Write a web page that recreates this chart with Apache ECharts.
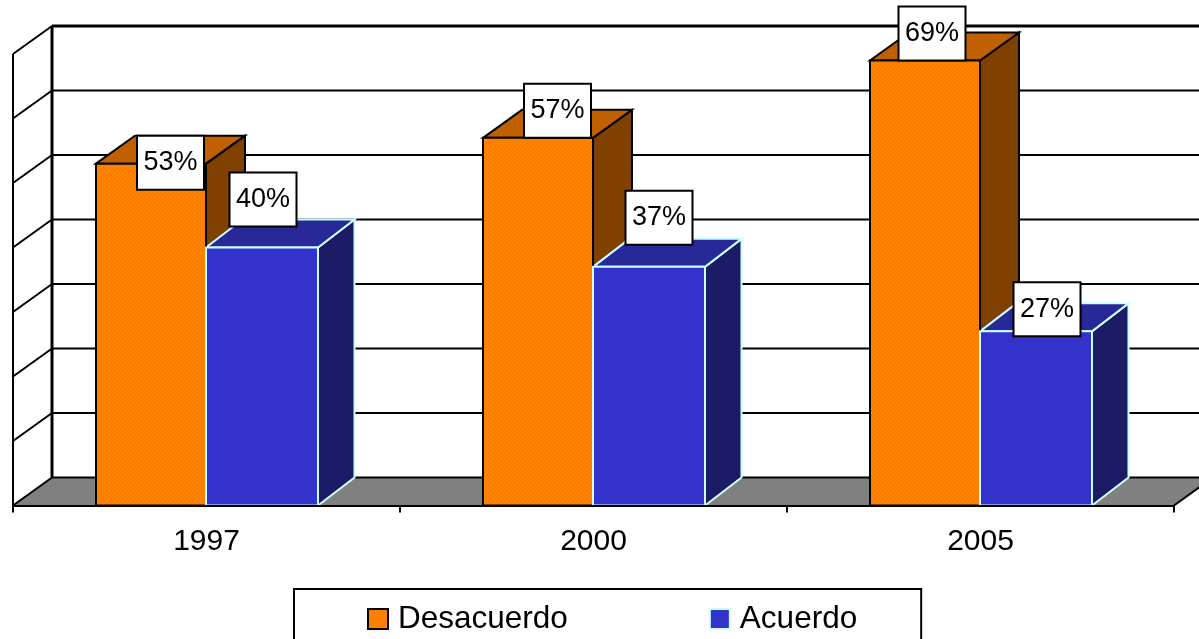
<!DOCTYPE html>
<html><head><meta charset="utf-8">
<style>html,body{margin:0;padding:0;background:#fff;overflow:hidden}#c{width:1199px;height:639px}</style>
<script src="https://cdn.jsdelivr.net/npm/echarts@6/dist/echarts.min.js"></script>
</head><body><div id="c"></div>
<script>
const years = ['1997', '2000', '2005'];
const desacuerdo = [53, 57, 69];
const acuerdo = [40, 37, 27];
const valueTicks = [0, 10, 20, 30, 40, 50, 60, 70];

// manual nudges of the value boxes (px, from the centre of the bar's front top edge)
const desacuerdoBoxNudge = [[19.5, -1], [19.5, -27], [7, -27]];
const acuerdoBoxNudge = [[1, -48], [10, -49], [11, -22]];

const DX = 39, DY = 28;
const FONT = '"Liberation Sans", Arial, sans-serif';

const chart = echarts.init(document.getElementById('c'), null, {renderer: 'canvas'});

function ditherPattern(a, b) {
  const cv = document.createElement('canvas');
  cv.width = cv.height = 4;
  const g = cv.getContext('2d');
  g.fillStyle = a; g.fillRect(0, 0, 4, 4);
  g.fillStyle = b; g.fillRect(0, 0, 2, 2); g.fillRect(2, 2, 2, 2);
  return {image: cv, repeat: 'repeat'};
}

function poly(points, fill, stroke, lw, z2) {
  return {type: 'polygon', shape: {points}, z2,
    style: {fill, stroke, lineWidth: lw, lineJoin: 'miter'}};
}
function line(x1, y1, x2, y2, w, z2) {
  return {type: 'line', shape: {x1, y1, x2, y2}, z2, style: {stroke: '#000', lineWidth: w}};
}

function renderWall(params, api) {
  const v = api.value(0);
  const rect = params.coordSys;
  const x0 = rect.x, x1 = rect.x + rect.width + DX;
  const y = api.coord([0, v])[1];
  const isTop = v === valueTicks[valueTicks.length - 1];
  const kids = [
    line(x0, y, x0 + DX, y - DY, 2, 3),
    line(x0 + DX, y - DY, x1, y - DY, isTop ? 3 : 2, 2)
  ];
  if (v === 0) {
    kids.unshift(poly([[x0, y], [x0 + DX, y - DY], [x1, y - DY], [x1 - DX, y]], '#808080', null, 0, 1));
    const top = api.coord([0, valueTicks[valueTicks.length - 1]])[1];
    kids.push(line(x0, y, x0, top, 2, 3));
    kids.push(line(x0 + DX, y - DY, x0 + DX, top - DY, 3, 3));
    kids.push(line(x1 - DX, y, x1, y - DY, 2, 3));
  }
  return {type: 'group', children: kids};
}

function makeBar(side, c, nudge) {
  return function (params, api) {
    const i = api.value(0), v = api.value(1);
    const p = api.coord([i, v]), b = api.coord([i, 0]);
    const mid = p[0] - 0.5;
    const l = side < 0 ? mid - c.width : mid, r = side < 0 ? mid : mid + c.width;
    const t = p[1], y0 = b[1], dx = c.dx;
    const n = nudge[i];
    const bx = (l + r) / 2 + n[0], by = t + n[1];
    return {type: 'group', children: [
      poly([[r, t], [r + dx, t - DY], [r + dx, y0 - DY], [r, y0]], c.side, c.line, 2, 10 + i * 10),
      poly([[l, t], [l + dx, t - DY], [r + dx, t - DY], [r, t]], c.top, c.line, 2, 10 + i * 10),
      poly([[l, t], [r, t], [r, y0], [l, y0]], c.fill || c.front, c.line, 2, 11 + i * 10),
      {type: 'rect', shape: {x: bx - 33.5, y: by - 27, width: 67, height: 54}, z2: 100,
        style: {fill: '#fff', stroke: '#000', lineWidth: 2}},
      {type: 'text', z2: 101, style: {x: bx, y: by, text: v + '%', align: 'center', verticalAlign: 'middle',
        fill: '#000', font: '27px ' + FONT}}
    ]};
  };
}

const orange = {front: '#FF8000', fill: ditherPattern('#FF8400', '#FB7C00'), top: '#C06000', side: '#804000', line: '#000', width: 110, dx: 39};
const blue = {front: '#3333CC', top: '#282899', side: '#1B1B66', line: '#CCFFFF', width: 112, dx: 36.5};

chart.setOption({
  animation: false,
  backgroundColor: '#fff',
  grid: {left: 13, right: 25, top: 54, bottom: 133.5},
  xAxis: {
    type: 'category', data: years, z: 10,
    axisLine: {lineStyle: {color: '#000', width: 2}},
    axisTick: {show: true, length: 7, lineStyle: {color: '#000', width: 2}},
    axisLabel: {color: '#000', fontFamily: FONT, fontSize: 30, margin: 21}
  },
  yAxis: {type: 'value', min: 0, max: 70, interval: 10, show: false},
  legend: {
    left: 294, top: 589,
    data: [
      {name: 'Desacuerdo', icon: 'rect', itemStyle: {color: orange.front, borderColor: '#000', borderWidth: 2}},
      {name: 'Acuerdo', icon: 'rect', itemStyle: {color: blue.front, borderColor: blue.line, borderWidth: 2}}
    ],
    itemWidth: 20, itemHeight: 20, itemGap: 141,
    padding: [14, 64, 30, 73],
    borderColor: '#000', borderWidth: 2, backgroundColor: '#fff',
    textStyle: {color: '#000', fontFamily: FONT, fontSize: 31.5, padding: [0, 0, 0, 5]}
  },
  series: [
    {type: 'custom', name: 'muro', data: valueTicks.map(v => [v]), encode: {y: 0}, renderItem: renderWall, z: 1, silent: true, clip: false},
    {type: 'custom', name: 'Desacuerdo', data: desacuerdo.map((v, i) => [i, v]), encode: {x: 0, y: 1},
      renderItem: makeBar(-1, orange, desacuerdoBoxNudge), itemStyle: {color: orange.front}, z: 2, clip: false},
    {type: 'custom', name: 'Acuerdo', data: acuerdo.map((v, i) => [i, v]), encode: {x: 0, y: 1},
      renderItem: makeBar(1, blue, acuerdoBoxNudge), itemStyle: {color: blue.front}, z: 2, clip: false}
  ]
});
</script></body></html>
